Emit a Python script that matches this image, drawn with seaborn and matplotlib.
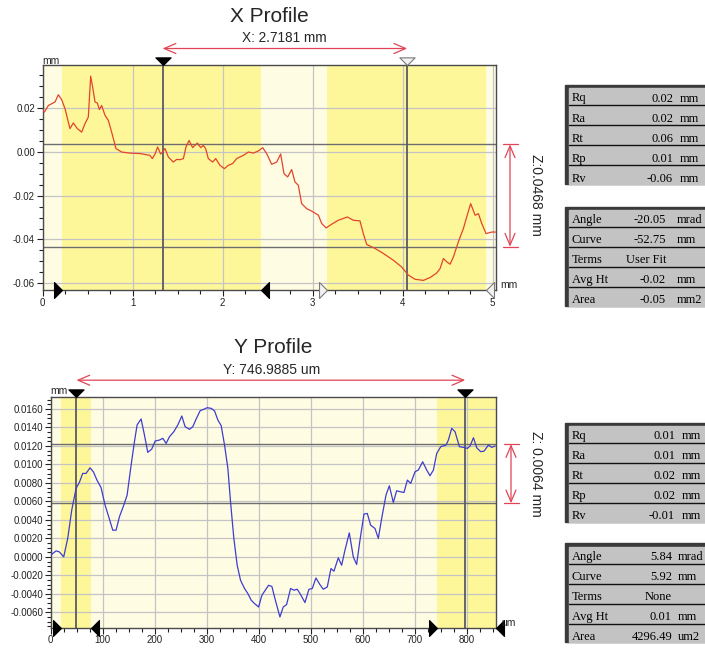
import numpy as np
import pandas as pd
import matplotlib
matplotlib.use("Agg")
import matplotlib.pyplot as plt
import seaborn as sns
from matplotlib.patches import Rectangle
from matplotlib.lines import Line2D
from matplotlib.ticker import MultipleLocator, FormatStrFormatter

# ---------------- data ----------------
x_pos_mm = [0.00, 0.02, 0.063, 0.137, 0.174, 0.21, 0.248, 0.303, 0.34, 0.385,
            0.433, 0.47, 0.507, 0.533, 0.555, 0.581, 0.607, 0.63, 0.655, 0.692,
            0.729, 0.766, 0.814, 0.877, 0.97, 1.081, 1.19, 1.218, 1.248, 1.277,
            1.31, 1.333, 1.359, 1.396, 1.451, 1.488, 1.526, 1.563, 1.592, 1.626,
            1.666, 1.718, 1.755, 1.785, 1.81, 1.84, 1.888, 1.922, 1.97, 2.018,
            2.062, 2.11, 2.155, 2.23, 2.285, 2.34, 2.396, 2.444, 2.488, 2.544,
            2.6, 2.644, 2.681, 2.722, 2.766, 2.803, 2.84, 2.877, 2.933, 2.988,
            3.063, 3.1, 3.148, 3.211, 3.285, 3.385, 3.451, 3.525, 3.562, 3.6,
            3.692, 3.785, 3.896, 3.989, 4.063, 4.137, 4.23, 4.304, 4.378, 4.415,
            4.452, 4.489, 4.526, 4.563, 4.618, 4.674, 4.711, 4.755, 4.804, 4.841,
            4.878, 4.926, 4.989, 5.03]
x_height_mm = [0.0191, 0.0183, 0.0213, 0.0229, 0.0262, 0.0240, 0.0198, 0.0107, 0.0133, 0.0107,
               0.0091, 0.0130, 0.0160, 0.0347, 0.0297, 0.0229, 0.0224, 0.0194, 0.0213, 0.0168,
               0.0145, 0.0091, 0.0016, 0.0000, -0.0005, -0.0007, -0.0015, -0.0030, -0.0009, 0.0023,
               -0.0009, 0.0000, 0.0016, -0.0023, -0.0046, -0.0034, -0.0035, -0.0030, 0.0023, 0.0053,
               0.0020, 0.0041, 0.0020, 0.0030, 0.0016, -0.0030, -0.0046, -0.0030, -0.0061, -0.0076,
               -0.0061, -0.0053, -0.0030, -0.0015, 0.0000, -0.0005, 0.0005, 0.0020, -0.0007, -0.0056,
               -0.0046, -0.0009, -0.0099, -0.0114, -0.0080, -0.0137, -0.0152, -0.0236, -0.0259, -0.0270,
               -0.0289, -0.0327, -0.0347, -0.0330, -0.0312, -0.0297, -0.0312, -0.0315, -0.0373, -0.0423,
               -0.0441, -0.0464, -0.0495, -0.0526, -0.0563, -0.0582, -0.0587, -0.0574, -0.0553, -0.0533,
               -0.0487, -0.0502, -0.0513, -0.0480, -0.0411, -0.0350, -0.0297, -0.0236, -0.0289, -0.0282,
               -0.0327, -0.0373, -0.0366, -0.0366]

y_pos_um = [0, 10.3, 16.7, 25, 32.7, 40.4, 48.7, 55.1, 61.5, 67.9,
            75.6, 82, 89, 96.8, 104.5, 111.5, 119.2, 125.6, 132, 140.4,
            146.8, 154.5, 160.9, 166, 173.7, 180.1, 186.5, 194.2, 200.6, 209,
            215.4, 221.8, 228.2, 236.5, 244.2, 251.9, 258.3, 266.7, 273, 279.5,
            287.2, 294.2, 300.6, 308.3, 314.7, 321.2, 327.6, 334, 340.4, 345.5,
            351.9, 358.3, 364.7, 372.4, 378.8, 385.3, 391.7, 399.4, 405.8, 412.2,
            418.6, 425, 430.8, 440.4, 446.8, 453.2, 460.9, 467.3, 473.7, 480.1,
            488.5, 496.2, 502.6, 509.6, 517.3, 523.7, 531.4, 538.5, 544.2, 552.6,
            559, 565.4, 573.7, 581.4, 587.8, 594.2, 601.9, 608.3, 614.7, 623.1,
            629.5, 635.9, 644.2, 650.6, 658.3, 664.7, 672.4, 678.8, 685.3, 691.7,
            700, 706.4, 714.7, 722.4, 728.8, 735.3, 741.7, 749.4, 759.6, 764.1,
            770.5, 776.9, 785.3, 793, 800.6, 805.8, 812.2, 818.6, 826.3, 832.7,
            841, 847.4, 853.8]
y_height_mm = [0.00018, 0.00065, 0.00054, 0.0000, 0.0020, 0.00506, 0.0074, 0.00806, 0.00903, 0.00903,
               0.00964, 0.0092, 0.0083, 0.00748, 0.0056, 0.00433, 0.00289, 0.00289, 0.00433, 0.0056,
               0.00668, 0.00993, 0.01246, 0.01427, 0.01492, 0.01319, 0.01131, 0.01167, 0.01253, 0.01264,
               0.01283, 0.01228, 0.0130, 0.01354, 0.01427, 0.01524, 0.01408, 0.0138, 0.01408, 0.01492,
               0.01582, 0.01597, 0.01614, 0.01607, 0.0158, 0.01481, 0.01419, 0.0121, 0.00958, 0.00596,
               0.0020, -0.0009, -0.00252, -0.00342, -0.00397, -0.00469, -0.00505, -0.00542, -0.00415, -0.00361,
               -0.00307, -0.00320, -0.0045, -0.0065, -0.00542, -0.00516, -0.00342, -0.0036, -0.0035, -0.00407,
               -0.00494, -0.0035, -0.00342, -0.00228, -0.0030, -0.0035, -0.00325, -0.00126, -0.00155, -0.0001,
               -0.0009, 0.00073, 0.0026, 0.0000, -0.00082, 0.0018, 0.00463, 0.0047, 0.00343, 0.00307,
               0.0020, 0.00416, 0.00668, 0.00769, 0.00589, 0.00715, 0.00704, 0.00697, 0.00831, 0.00795,
               0.00921, 0.0094, 0.01029, 0.0094, 0.00878, 0.0094, 0.0112, 0.01192, 0.0121, 0.01264,
               0.01391, 0.01354, 0.01192, 0.01185, 0.01174, 0.0120, 0.01289, 0.0118, 0.01138, 0.01145,
               0.0121, 0.01185, 0.0120]

# cursors, regions, z-levels
x_cursors = [1.332, 4.050]
x_bands = [(0.21, 2.43), (3.16, 4.93)]
x_zlevels = [0.0035, -0.0433]
y_cursors = [49.5, 796.5]
y_bands = [(20.5, 78), (743, 855)]
y_zlevels = [0.0122, 0.0058]

x_title, x_span_label, x_z_label = "X Profile", "X: 2.7181 mm", "Z:0.0468 mm"
y_title, y_span_label, y_z_label = "Y Profile", "Y: 746.9885 um", "Z: 0.0064 mm"

x_stats1 = [("Rq", "0.02", "mm"), ("Ra", "0.02", "mm"), ("Rt", "0.06", "mm"),
            ("Rp", "0.01", "mm"), ("Rv", "-0.06", "mm")]
x_stats2 = [("Angle", "-20.05", "mrad"), ("Curve", "-52.75", "mm"), ("Terms", "User Fit", ""),
            ("Avg Ht", "-0.02", "mm"), ("Area", "-0.05", "mm2")]
y_stats1 = [("Rq", "0.01", "mm"), ("Ra", "0.01", "mm"), ("Rt", "0.02", "mm"),
            ("Rp", "0.02", "mm"), ("Rv", "-0.01", "mm")]
y_stats2 = [("Angle", "5.84", "mrad"), ("Curve", "5.92", "mm"), ("Terms", "None", ""),
            ("Avg Ht", "0.01", "mm"), ("Area", "4296.49", "um2")]

# ---------------- style ----------------
sns.set_theme(style="white")
plt.rcParams["font.family"] = ["Liberation Sans", "DejaVu Sans"]
plt.rcParams["axes.unicode_minus"] = False

W, H = 705, 648
fig = plt.figure(figsize=(W / 100, H / 100), dpi=100)
fig.patch.set_facecolor("white")

CREAM = "#fffce4"
YELLOW = "#fef79a"
GRID = "#c4c4c4"
DARK = "#6e6e6e"
CURSOR = "#5a5a66"
ARROW = "#e04555"


def fx(px):
    return px / W


def fy(py):
    return 1 - py / H


def make_axes(left, right, top, bottom):
    return fig.add_axes([fx(left), fy(bottom), (right - left) / W, (bottom - top) / H])


def tri(kind):
    # tip at origin
    if kind == "right":
        return [(0, 0), (-1, 1), (-1, -1), (0, 0)]
    if kind == "left":
        return [(0, 0), (1, 1), (1, -1), (0, 0)]
    return [(0, 0), (-1, 1), (1, 1), (0, 0)]  # down


def setup_profile(ax, xs, ys, color, bands, cursors, zlevels, xlim, ylim,
                  xmaj, xmin, ymaj, ymin, yfmt, marker_specs, top_markers,
                  top_px, bottom_px, arrow_x_frac, cap_fracs):
    ax.set_facecolor(CREAM)
    for a, b in bands:
        ax.axvspan(a, b, color=YELLOW, zorder=0.2, lw=0)
    ax.set_xlim(*xlim)
    ax.set_ylim(*ylim)
    ax.xaxis.set_major_locator(MultipleLocator(xmaj))
    ax.xaxis.set_minor_locator(MultipleLocator(xmin))
    ax.yaxis.set_major_locator(MultipleLocator(ymaj))
    ax.yaxis.set_minor_locator(MultipleLocator(ymin))
    ax.yaxis.set_major_formatter(FormatStrFormatter(yfmt))
    ax.xaxis.set_major_formatter(FormatStrFormatter("%g"))
    ax.grid(True, which="major", color=GRID, lw=0.9)
    ax.set_axisbelow(True)
    for z in zlevels:
        ax.axhline(z, color=DARK, lw=1.0, zorder=1)
    for c in cursors:
        ax.axvline(c, color=CURSOR, lw=1.3, zorder=1.5)
    df = pd.DataFrame({"pos": xs, "h": ys})
    sns.lineplot(data=df, x="pos", y="h", ax=ax, color=color, lw=0.9,
                 estimator=None, sort=False, zorder=3)
    ax.set_xlabel("")
    ax.set_ylabel("")
    ax.tick_params(axis="both", which="both", direction="out", colors="#222222",
                   labelsize=7, left=True, bottom=True)
    ax.tick_params(axis="both", which="major", length=4, width=0.8, pad=1.5)
    ax.tick_params(axis="both", which="minor", length=3, width=0.8)
    for s in ax.spines.values():
        s.set_color("#4a4a4a")
        s.set_linewidth(1.0)
    # markers on bottom axis
    for xv, kind, fc in marker_specs:
        ax.plot([xv], [ylim[0]], marker=tri(kind), ms=11.5, color=fc,
                mec="#7a7a7a" if fc != "black" else "black", mew=0.8,
                clip_on=False, zorder=6, ls="none")
    # markers on top at cursors
    for c, fc in top_markers:
        ax.plot([c], [ylim[1]], marker=tri("down"), ms=11, color=fc,
                mec="#7a7a7a" if fc != "black" else "black", mew=0.8,
                clip_on=False, zorder=6, ls="none")
    # horizontal span arrow above
    axis_h = bottom_px - top_px
    yfrac = 1 + 16.5 / axis_h
    ax.annotate("", xy=(cursors[1], yfrac), xytext=(cursors[0], yfrac),
                xycoords=ax.get_xaxis_transform(), textcoords=ax.get_xaxis_transform(),
                arrowprops=dict(arrowstyle="<->,head_length=0.7,head_width=0.3",
                                color=ARROW, lw=0.9, shrinkA=0, shrinkB=0),
                annotation_clip=False)
    # vertical z arrow
    ax.annotate("", xy=(arrow_x_frac, zlevels[1]), xytext=(arrow_x_frac, zlevels[0]),
                xycoords=ax.get_yaxis_transform(), textcoords=ax.get_yaxis_transform(),
                arrowprops=dict(arrowstyle="<->,head_length=0.7,head_width=0.3",
                                color=ARROW, lw=0.9, shrinkA=0, shrinkB=0),
                annotation_clip=False)
    for z in zlevels:
        ax.plot(cap_fracs, [z, z], color=ARROW, lw=0.9, transform=ax.get_yaxis_transform(),
                clip_on=False)


def draw_table(top, rows, val_right, unit_left):
    left = 565
    fig.patches.append(Rectangle((fx(left), fy(top + 99)), (W + 10 - left) / W, 99 / H,
                                 transform=fig.transFigure, color="#3a3a3a", zorder=0))
    fig.patches.append(Rectangle((fx(left + 3.5), fy(top + 99)), (W + 10 - left - 3.5) / W,
                                 (99 - 3.2) / H, transform=fig.transFigure,
                                 color="#c3c3c3", zorder=0.5))
    for i, (lab, val, unit) in enumerate(rows):
        base = top + 16.7 + 20 * i
        kw = dict(family=["Liberation Serif", "DejaVu Serif"], fontsize=9, color="black",
                  va="baseline")
        fig.text(fx(572), fy(base), lab, ha="left", **kw)
        fig.text(fx(val_right), fy(base), val, ha="right", **kw)
        if unit:
            fig.text(fx(unit_left), fy(base), unit, ha="left", **kw)
        if i < len(rows) - 1:
            fig.lines.append(Line2D([fx(569), fx(W + 5)], [fy(base + 3.6)] * 2,
                                    transform=fig.transFigure, color="#111111", lw=1.0))


# ---------------- X profile ----------------
TL, TR, TT, TB = 42.7, 495.7, 65, 290
ax1 = make_axes(TL, TR, TT, TB)
setup_profile(ax1, x_pos_mm, x_height_mm, "#e2452b", x_bands, x_cursors, x_zlevels,
              (0, 5.033), (-0.0631, 0.0398), 1, 0.25, 0.02, 0.005, "%.2f",
              [(x_bands[0][0], "right", "black"), (x_bands[0][1], "left", "black"),
               (x_bands[1][0], "right", "#f2f2f2"), (x_bands[1][1], "left", "#f2f2f2")],
              [(x_cursors[0], "black"), (x_cursors[1], "#f2f2f2")],
              TT, TB, (510 - TL) / (TR - TL), [(503 - TL) / (TR - TL), (518 - TL) / (TR - TL)])

# ---------------- Y profile ----------------
BL, BR, BT, BB = 50.7, 495.7, 396.7, 627.7
ax2 = make_axes(BL, BR, BT, BB)
setup_profile(ax2, y_pos_um, y_height_mm, "#3d3dcf", y_bands, y_cursors, y_zlevels,
              (0, 855), (-0.00766, 0.01733), 100, 25, 0.002, 0.0005, "%.4f",
              [(y_bands[0][0], "right", "black"), (y_bands[0][1], "left", "black"),
               (y_bands[1][0], "right", "black"), (y_bands[1][1], "left", "black")],
              [(y_cursors[0], "black"), (y_cursors[1], "black")],
              BT, BB, (511 - BL) / (BR - BL), [(503.5 - BL) / (BR - BL), (518.5 - BL) / (BR - BL)])

# titles and labels
fig.text(fx(269), fy(16), x_title, ha="center", va="center", fontsize=15)
fig.text(fx(284.5), fy(38.5), x_span_label, ha="center", va="center", fontsize=9.8)
fig.text(fx(273), fy(347), y_title, ha="center", va="center", fontsize=15)
fig.text(fx(271.3), fy(369.5), y_span_label, ha="center", va="center", fontsize=10)

fig.text(fx(536.5), fy(195.3), x_z_label, ha="center", va="center", rotation=270, fontsize=10)
fig.text(fx(536), fy(473.5), y_z_label, ha="center", va="center", rotation=270, fontsize=10)

fig.text(fx(42.5), fy(61), "mm", ha="left", va="center", fontsize=7.5)
fig.text(fx(50.5), fy(391), "mm", ha="left", va="center", fontsize=7.5)
fig.text(fx(500.5), fy(285.5), "mm", ha="left", va="center", fontsize=7.5)
fig.text(fx(501.5), fy(622.5), "um", ha="left", va="center", fontsize=7.5)

# stats tables
draw_table(84.8, x_stats1, 673, 680)
draw_table(206.7, x_stats2, 666, 676.5)
draw_table(422.7, y_stats1, 675, 681.5)
draw_table(543.3, y_stats2, 672, 677.5)

fig.savefig("out.png", dpi=100)
